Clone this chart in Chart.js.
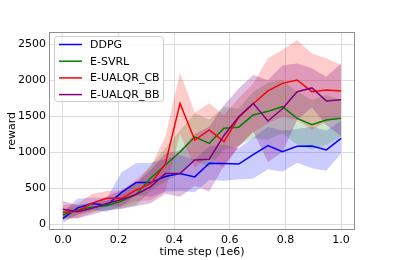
<!DOCTYPE html>
<html>
<head>
<meta charset="utf-8">
<script src="https://cdn.jsdelivr.net/npm/chart.js@4.4.1/dist/chart.umd.min.js"></script>
<style>
    html, body { margin: 0; padding: 0; background: #fff; }
    #wrap { width: 395px; height: 260px; }
</style>
</head>
<body>
<div id="wrap"><canvas id="chart" width="395" height="260"></canvas></div>
<script>
// ---- dados ----
const steps = [0.000, 0.053, 0.105, 0.158, 0.211, 0.263, 0.316, 0.368, 0.421, 0.474,
               0.526, 0.579, 0.632, 0.684, 0.737, 0.789, 0.842, 0.895, 0.947, 1.000];

const ddpg     = [80, 225, 285, 260, 440, 575, 575, 660, 700, 655, 845, 840, 833, 965, 1090, 1004, 1080, 1085, 1030, 1190];
const ddpgLow  = [20, 130, 200, 170, 250, 400, 380, 450, 460, 440, 610, 600, 620, 634, 760, 726, 851, 773, 740, 982];
const ddpgHigh = [170, 350, 370, 360, 720, 845, 850, 900, 960, 900, 1080, 1100, 1050, 1200, 1350, 1300, 1320, 1350, 1300, 1440];

const esvrl     = [125, 195, 235, 255, 320, 410, 640, 820, 1000, 1210, 1120, 1330, 1345, 1514, 1565, 1630, 1468, 1378, 1444, 1468];
const esvrlLow  = [60, 130, 170, 190, 220, 260, 460, 590, 700, 880, 790, 1030, 1090, 1190, 1170, 1260, 1100, 1034, 1096, 1214];
const esvrlHigh = [190, 260, 300, 320, 420, 560, 820, 1050, 1300, 1540, 1450, 1630, 1600, 1838, 1958, 2000, 1838, 1722, 1792, 1722];

const cb     = [160, 180, 290, 357, 357, 470, 565, 830, 1676, 1167, 1306, 1144, 1480, 1670, 1850, 1954, 2000, 1838, 1860, 1847];
const cbLow  = [60, 80, 160, 250, 245, 320, 330, 450, 1250, 784, 936, 774, 1076, 1270, 1400, 1491, 1445, 1306, 1419, 1486];
const cbHigh = [260, 280, 420, 460, 470, 620, 800, 1213, 2100, 1550, 1676, 1514, 1750, 1950, 2301, 2417, 2555, 2370, 2301, 2208];

const bb     = [205, 170, 218, 285, 340, 410, 520, 700, 700, 890, 900, 1230, 1490, 1676, 1430, 1600, 1838, 1890, 1710, 1725];
const bbLow  = [90, 80, 130, 190, 210, 250, 290, 420, 380, 530, 450, 810, 1080, 1280, 860, 1000, 1445, 1618, 1374, 1219];
const bbHigh = [320, 260, 300, 380, 470, 570, 750, 980, 1020, 1250, 1350, 1650, 1884, 2069, 2000, 2200, 2231, 2162, 2046, 2231];

const xTicks = [0, 0.2, 0.4, 0.6, 0.8, 1.0];
const yTicks = [0, 500, 1000, 1500, 2000, 2500];

const seriesNames = ['DDPG', 'E-SVRL', 'E-UALQR_CB', 'E-UALQR_BB'];
const lineColors  = ['#0000ff', '#008000', '#ff0000', '#800080'];
const bandColors  = ['rgba(0,0,255,0.2)', 'rgba(0,128,0,0.2)', 'rgba(255,0,0,0.2)', 'rgba(128,0,128,0.25)'];

// ---- monta datasets ----
const toPts = arr => arr.map((v, i) => ({ x: steps[i], y: v }));
const means = [ddpg, esvrl, cb, bb];
const lows  = [ddpgLow, esvrlLow, cbLow, bbLow];
const highs = [ddpgHigh, esvrlHigh, cbHigh, bbHigh];

const datasets = [];
means.forEach((m, k) => {
    // faixa: limite inferior + superior preenchendo até o anterior
    datasets.push({
        data: toPts(lows[k]), borderWidth: 0, pointRadius: 0, fill: false,
        order: 10 - k, tension: 0
    });
    datasets.push({
        data: toPts(highs[k]), borderWidth: 0, pointRadius: 0, fill: '-1',
        backgroundColor: bandColors[k], order: 10 - k, tension: 0
    });
});
means.forEach((m, k) => {
    datasets.push({
        label: seriesNames[k], data: toPts(m), borderColor: lineColors[k],
        borderWidth: 1.5, pointRadius: 0, fill: false, order: 4 - k, tension: 0
    });
});

const FONT = 'DejaVu Sans';

// moldura + legenda no canto superior esquerdo
const framePlugin = {
    id: 'frame',
    afterDraw(chart) {
        const { ctx, chartArea: a } = chart;
        ctx.save();
        ctx.strokeStyle = '#8f8f8f';
        ctx.lineWidth = 1;
        ctx.strokeRect(a.left + 0.5, a.top + 0.5, a.right - a.left - 1, a.bottom - a.top - 1);

        // caixa da legenda
        const bx = 54.5, by = 36.5, bw = 109, bh = 65, r = 3;
        ctx.beginPath();
        ctx.roundRect(bx, by, bw, bh, r);
        ctx.fillStyle = 'rgba(255,255,255,0.8)';
        ctx.fill();
        ctx.strokeStyle = '#cccccc';
        ctx.stroke();

        ctx.font = '11px "' + FONT + '"';
        ctx.textBaseline = 'middle';
        ctx.fillStyle = '#000';
        seriesNames.forEach((name, k) => {
            const y = 44.5 + k * 16.7;
            ctx.beginPath();
            ctx.moveTo(59, y);
            ctx.lineTo(82, y);
            ctx.strokeStyle = lineColors[k];
            ctx.lineWidth = 1.5;
            ctx.stroke();
            ctx.fillText(name, 90, y + 0.5);
        });
        ctx.restore();
    }
};

new Chart(document.getElementById('chart'), {
    type: 'line',
    data: { datasets },
    plugins: [framePlugin],
    options: {
        responsive: false,
        animation: false,
        events: [],
        layout: { padding: { left: 0, right: 40, top: 32, bottom: 0 } },
        plugins: { legend: { display: false }, tooltip: { enabled: false } },
        scales: {
            x: {
                type: 'linear', min: -0.05, max: 1.05,
                afterBuildTicks: s => { s.ticks = xTicks.map(v => ({ value: v })); },
                afterFit: s => { s.height = 30; },
                grid: { color: '#dcdcdc', drawTicks: false },
                border: { display: false },
                ticks: {
                    padding: 4, color: '#000', maxRotation: 0,
                    font: { family: FONT, size: 11 },
                    callback: v => v.toFixed(1)
                },
                title: {
                    display: true, text: 'time step (1e6)', color: '#000',
                    font: { family: FONT, size: 11 }, padding: { top: 0, bottom: 1 }
                }
            },
            y: {
                type: 'linear', min: -83, max: 2667,
                afterBuildTicks: s => { s.ticks = yTicks.map(v => ({ value: v })); },
                afterFit: s => { s.width = 49; },
                grid: { color: '#dcdcdc', drawTicks: false },
                border: { display: false },
                ticks: {
                    padding: 3, color: '#000',
                    font: { family: FONT, size: 11 },
                    callback: v => String(v)
                },
                title: {
                    display: true, text: 'reward', color: '#000',
                    font: { family: FONT, size: 11 }, padding: { top: 6, bottom: 0 }
                }
            }
        }
    }
});
</script>
</body>
</html>
